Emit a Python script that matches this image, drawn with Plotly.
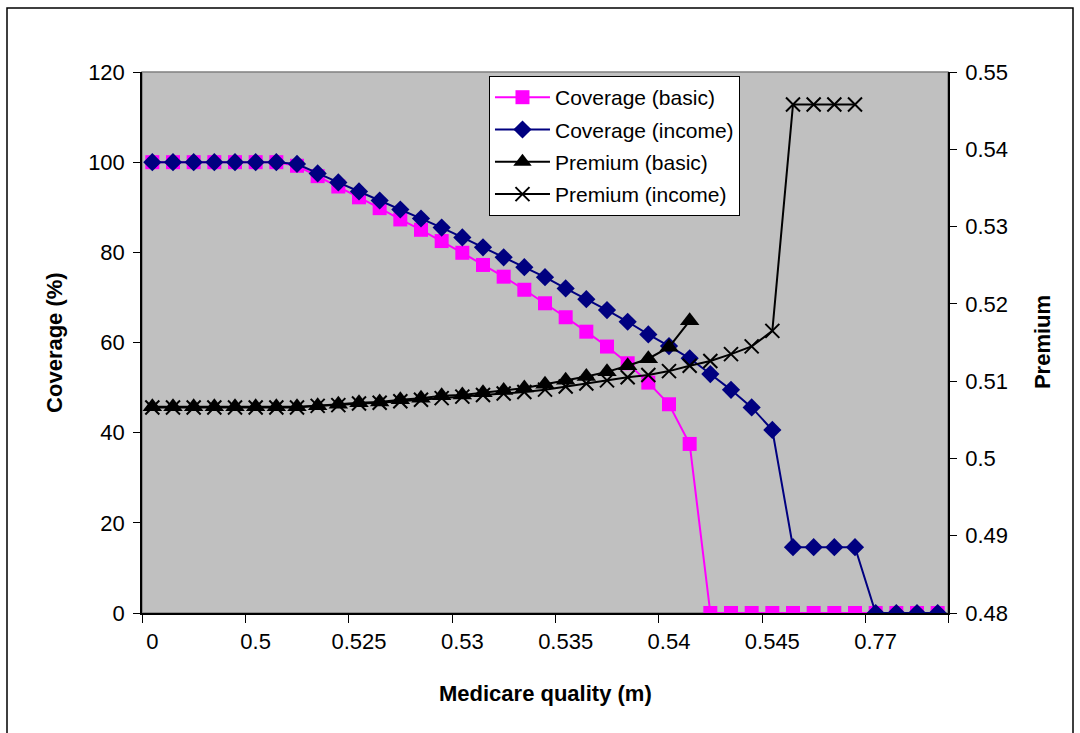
import plotly.graph_objects as go

# ---- data ----
n_points = 39
positions = list(range(1, n_points + 1))
tick_labels = ["0", "0.5", "0.525", "0.53", "0.535", "0.54", "0.545", "0.77"]
tick_positions = [1, 6, 11, 16, 21, 26, 31, 36]

coverage_basic = [100, 100, 100, 100, 100, 100, 100, 99.2, 96.9, 94.6,
                  92.2, 89.8, 87.3, 85.0, 82.5, 79.9, 77.2, 74.6, 71.7, 68.7,
                  65.6, 62.4, 59.1, 55.4, 51.1, 46.3, 37.5, 0, 0, 0,
                  0, 0, 0, 0, 0, 0, 0, 0, 0]
coverage_income = [100, 100, 100, 100, 100, 100, 100, 99.6, 97.5, 95.5,
                   93.5, 91.5, 89.5, 87.5, 85.5, 83.3, 81.1, 78.9, 76.7, 74.5,
                   72.0, 69.6, 67.2, 64.6, 61.8, 59.2, 56.5, 53.0, 49.5, 45.6,
                   40.6, 14.6, 14.6, 14.6, 14.6, 0, 0, 0, 0]
premium_basic = [0.5067, 0.5067, 0.5067, 0.5067, 0.5067, 0.5067, 0.5067, 0.5067, 0.5068, 0.5070,
                 0.5072, 0.5073, 0.5076, 0.5078, 0.5081, 0.5082, 0.5085, 0.5088, 0.5091, 0.5096,
                 0.5101, 0.5106, 0.5112, 0.5120, 0.5129, 0.5144, 0.5178, None, None, None,
                 None, None, None, None, None, None, None, None, None]
premium_income = [0.5066, 0.5066, 0.5066, 0.5066, 0.5066, 0.5066, 0.5066, 0.5066, 0.5068, 0.5069,
                  0.5071, 0.5072, 0.5074, 0.5076, 0.5078, 0.5080, 0.5082, 0.5084, 0.5086, 0.5089,
                  0.5093, 0.5097, 0.5101, 0.5105, 0.5108, 0.5113, 0.5120, 0.5126, 0.5135, 0.5145,
                  0.5165, 0.5458, 0.5458, 0.5458, 0.5458, None, None, None, None]

left_ticks = [0, 20, 40, 60, 80, 100, 120]
right_ticks = [0.48, 0.49, 0.50, 0.51, 0.52, 0.53, 0.54, 0.55]
right_tick_labels = ["0.48", "0.49", "0.5", "0.51", "0.52", "0.53", "0.54", "0.55"]

FONT = "Liberation Sans, Arial, sans-serif"

fig = go.Figure()
fig.add_trace(go.Scatter(
    x=positions, y=coverage_basic, name="Coverage (basic)", mode="lines+markers",
    legendgroup="g1",
    line=dict(color="#FF00FF", width=2),
    marker=dict(symbol="square", size=14, color="#FF00FF"),
))
fig.add_trace(go.Scatter(
    x=positions, y=coverage_income, name="Coverage (income)", mode="lines+markers",
    legendgroup="g2",
    line=dict(color="#000080", width=2),
    marker=dict(symbol="diamond", size=14, color="#000080"),
))
fig.add_trace(go.Scatter(
    x=positions, y=premium_basic, name="Premium (basic)", mode="lines+markers",
    legendgroup="g3",
    yaxis="y2", line=dict(color="black", width=2),
    marker=dict(symbol="triangle-up", size=17, color="black"),
))
fig.add_trace(go.Scatter(
    x=positions, y=premium_income, name="Premium (income)", mode="lines+markers",
    legendgroup="g4",
    yaxis="y2", line=dict(color="black", width=2),
    marker=dict(symbol="x-thin", size=14, color="black",
                line=dict(color="black", width=2)),
))

minor_ticks = [p - 0.5 for p in tick_positions] + [n_points + 0.5]

fig.update_layout(
    width=1080, height=733,
    margin=dict(l=142, r=132, t=72, b=120),
    paper_bgcolor="white",
    plot_bgcolor="#C0C0C0",
    font=dict(family=FONT, size=22, color="black"),
    showlegend=True,
    legend=dict(
        x=0.4305, y=0.9925, xanchor="left", yanchor="top",
        bgcolor="white", bordercolor="black", borderwidth=1,
        font=dict(family=FONT, size=21, color="black"),
        tracegroupgap=2, itemwidth=55,
    ),
    xaxis=dict(
        range=[0.5, n_points + 0.5],
        tickmode="array", tickvals=tick_positions, ticktext=tick_labels,
        ticks="", showgrid=False, zeroline=False,
        showline=True, linecolor="black", linewidth=1.5,
        tickfont=dict(family=FONT, size=22),
        ticklabelstandoff=8,
        minor=dict(tickmode="array", tickvals=minor_ticks, ticks="outside",
                   ticklen=8, tickcolor="black", tickwidth=1, showgrid=False),
    ),
    yaxis=dict(
        range=[0, 120], tickmode="array", tickvals=left_ticks,
        ticks="outside", ticklen=7, tickcolor="black",
        showgrid=False, zeroline=False,
        showline=True, linecolor="black", linewidth=1.5,
        tickfont=dict(family=FONT, size=22),
        ticklabelstandoff=4,
    ),
    yaxis2=dict(
        range=[0.48, 0.55], overlaying="y", side="right",
        tickmode="array", tickvals=right_ticks, ticktext=right_tick_labels,
        ticks="outside", ticklen=7, tickcolor="black",
        showgrid=False, zeroline=False,
        showline=True, linecolor="black", linewidth=1.5,
        tickfont=dict(family=FONT, size=22),
        ticklabelstandoff=4,
    ),
    annotations=[
        dict(text="<b>Medicare quality (m)</b>", xref="paper", yref="paper",
             x=0.5, y=-0.148, xanchor="center", yanchor="middle",
             showarrow=False, font=dict(family=FONT, size=22)),
        dict(text="<b>Coverage (%)</b>", xref="paper", yref="paper",
             x=-0.108, y=0.501, xanchor="center", yanchor="middle", textangle=-90,
             showarrow=False, font=dict(family=FONT, size=22)),
        dict(text="<b>Premium</b>", xref="paper", yref="paper",
             x=1.118, y=0.501, xanchor="center", yanchor="middle", textangle=-90,
             showarrow=False, font=dict(family=FONT, size=22)),
    ],
    shapes=[
        dict(type="rect", xref="paper", yref="paper", x0=0, x1=1, y0=0, y1=1,
             line=dict(color="#808080", width=1.5), layer="below"),
        dict(type="rect", xref="paper", yref="paper",
             x0=(7 - 142) / 806, x1=(1073 - 142) / 806,
             y0=(613 - 745) / 541, y1=(613 - 8) / 541,
             line=dict(color="black", width=1.5)),
    ],
)

fig.write_html("out.html")
